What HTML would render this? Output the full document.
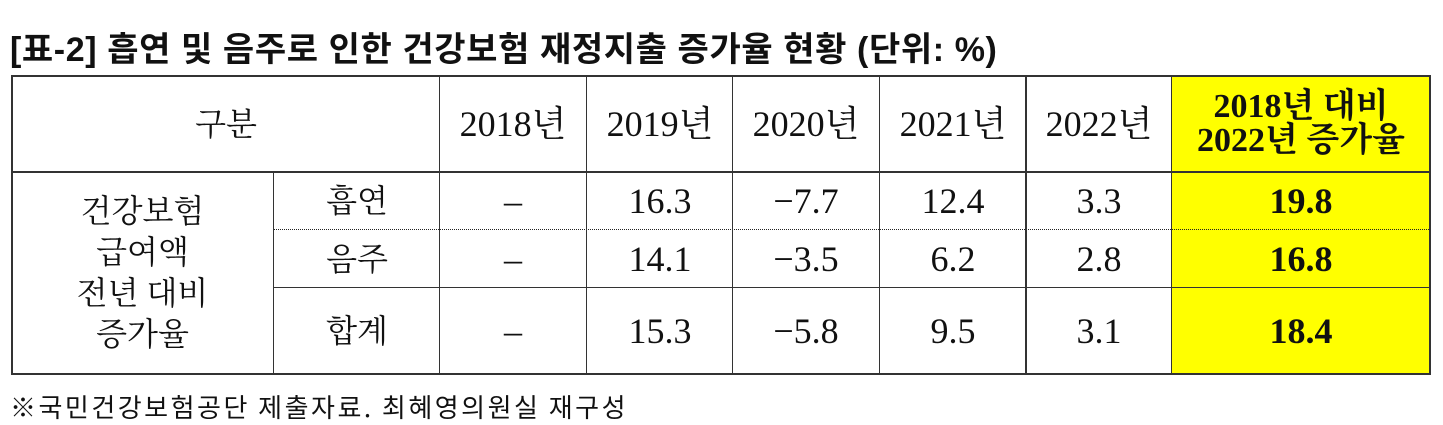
<!DOCTYPE html>
<html><head><meta charset="utf-8"><style>
body{margin:0;width:1443px;height:425px;background:#fff;position:relative;overflow:hidden;font-family:"Liberation Serif","Noto Serif CJK KR","Noto Serif CJK SC",serif;color:#111}
.t{position:absolute;left:10px;top:22px;font:bold 34px "Liberation Sans","Noto Sans CJK KR",sans-serif;letter-spacing:0.6px;white-space:nowrap}
.c{position:absolute;display:flex;align-items:center;justify-content:center;text-align:center;font-size:36px;line-height:38px;white-space:nowrap}
.k{font-size:32px}
.b{font-weight:bold}
.h{position:absolute;background:#333}
.y{position:absolute;left:1172px;top:76px;width:258px;height:298px;background:#ffff00}
.f{position:absolute;left:10px;top:388px;font:26px "Noto Sans CJK KR",sans-serif;letter-spacing:2.5px;white-space:nowrap}
</style></head><body>
<div class="t">[표-2] 흡연 및 음주로 인한 건강보험 재정지출 증가율 현황 (단위: %)</div>
<div class="y"></div>
<div class="h" style="left:11px;top:75px;width:1420px;height:2px"></div>
<div class="h" style="left:11px;top:171px;width:1420px;height:2px"></div>
<div style="position:absolute;left:273px;top:229px;width:1158px;border-top:1px dotted #222"></div>
<div class="h" style="left:273px;top:287px;width:1158px;height:1px"></div>
<div class="h" style="left:11px;top:373px;width:1420px;height:2px"></div>
<div class="h" style="left:11px;top:75px;width:2px;height:300px"></div>
<div class="h" style="left:273px;top:172px;width:1px;height:202px"></div>
<div class="h" style="left:439px;top:75px;width:1px;height:300px"></div>
<div class="h" style="left:586px;top:75px;width:1px;height:300px"></div>
<div class="h" style="left:732px;top:75px;width:1px;height:300px"></div>
<div class="h" style="left:879px;top:75px;width:1px;height:300px"></div>
<div class="h" style="left:1025px;top:75px;width:2px;height:300px"></div>
<div class="h" style="left:1171px;top:75px;width:1px;height:300px"></div>
<div class="h" style="left:1429px;top:75px;width:2px;height:300px"></div>
<div class="c k" style="left:12px;top:76px;width:428px;height:96px">구분</div>
<div class="c" style="left:440px;top:76px;width:146px;height:96px">2018년</div>
<div class="c" style="left:587px;top:76px;width:146px;height:96px">2019년</div>
<div class="c" style="left:733px;top:76px;width:146px;height:96px">2020년</div>
<div class="c" style="left:880px;top:76px;width:146px;height:96px">2021년</div>
<div class="c" style="left:1026px;top:76px;width:146px;height:96px">2022년</div>
<div class="c b" style="left:1172px;top:76px;width:258px;height:96px;line-height:34px;font-size:34px">2018년 대비<br>2022년 증가율</div>
<div class="c k" style="left:12px;top:172px;width:261px;height:202px;line-height:41px">건강보험<br>급여액<br>전년 대비<br>증가율</div>
<div class="c k" style="left:274px;top:172px;width:166px;height:58px">흡연</div>
<div class="c" style="left:440px;top:172px;width:146px;height:58px">–</div>
<div class="c" style="left:587px;top:172px;width:146px;height:58px">16.3</div>
<div class="c" style="left:733px;top:172px;width:146px;height:58px">−7.7</div>
<div class="c" style="left:880px;top:172px;width:146px;height:58px">12.4</div>
<div class="c" style="left:1026px;top:172px;width:146px;height:58px">3.3</div>
<div class="c b" style="left:1172px;top:172px;width:258px;height:58px">19.8</div>
<div class="c k" style="left:274px;top:230px;width:166px;height:58px">음주</div>
<div class="c" style="left:440px;top:230px;width:146px;height:58px">–</div>
<div class="c" style="left:587px;top:230px;width:146px;height:58px">14.1</div>
<div class="c" style="left:733px;top:230px;width:146px;height:58px">−3.5</div>
<div class="c" style="left:880px;top:230px;width:146px;height:58px">6.2</div>
<div class="c" style="left:1026px;top:230px;width:146px;height:58px">2.8</div>
<div class="c b" style="left:1172px;top:230px;width:258px;height:58px">16.8</div>
<div class="c k" style="left:274px;top:288px;width:166px;height:86px">합계</div>
<div class="c" style="left:440px;top:288px;width:146px;height:86px">–</div>
<div class="c" style="left:587px;top:288px;width:146px;height:86px">15.3</div>
<div class="c" style="left:733px;top:288px;width:146px;height:86px">−5.8</div>
<div class="c" style="left:880px;top:288px;width:146px;height:86px">9.5</div>
<div class="c" style="left:1026px;top:288px;width:146px;height:86px">3.1</div>
<div class="c b" style="left:1172px;top:288px;width:258px;height:86px">18.4</div>
<div class="f">※국민건강보험공단 제출자료. 최혜영의원실 재구성</div>
</body></html>
